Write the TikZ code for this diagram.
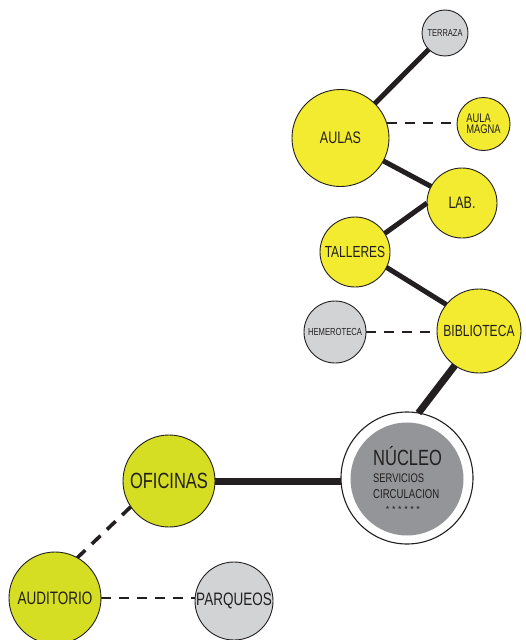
\documentclass[tikz,border=0pt]{standalone}
\usepackage{fontspec}
\setmainfont{Liberation Sans}
\newfontfamily\cond[FakeStretch=0.75]{Liberation Sans}
\definecolor{ylw}{RGB}{242,235,48}
\definecolor{lime}{RGB}{214,222,35}
\definecolor{lgray}{RGB}{209,211,212}
\definecolor{dgray}{RGB}{147,149,152}
\definecolor{ink}{RGB}{35,31,32}
\tikzset{
  room/.style={circle,draw=ink,line width=0.9pt,inner sep=0pt,outer sep=0pt,text=ink},
  yroom/.style={room,fill=ylw},
  lroom/.style={room,fill=lime},
  groom/.style={room,fill=lgray},
  link/.style={draw=ink,line width=5pt},
  biglink/.style={draw=ink,line width=7pt},
  dlink/.style={draw=ink,line width=2.6pt,dash pattern=on 10pt off 8pt},
  fs/.style={font=\cond\fontsize{#1}{#1}\selectfont}
}
\begin{document}
\begin{tikzpicture}[x=1pt,y=-1pt]
\useasboundingbox (0,0) rectangle (525,640);
\clip (0,0) rectangle (525,640);
% nodes
\node[groom,minimum size=46pt,fs=10] (ter) at (445,33) {TERRAZA};
\node[yroom,minimum size=97pt,fs=16.7] (aul) at (340.5,138) {AULAS};
\node[yroom,minimum size=53pt,fs=12.5,align=left] (am) at (483.5,124) {AULA\\[-1pt]MAGNA};
\node[yroom,minimum size=70pt,fs=16.6] (lab) at (462,203) {LAB.};
\node[yroom,minimum size=70pt,fs=16] (tal) at (355,252) {TALLERES};
\node[groom,minimum size=62pt,fs=10.2] (hem) at (335,332) {HEMEROTECA};
\node[yroom,minimum size=84pt,fs=16.1] (bib) at (479,331) {BIBLIOTECA};
\node[circle,draw=ink,line width=1.1pt,fill=white,minimum size=132pt,inner sep=0pt,outer sep=0pt] (nuc) at (407,478) {};
\node[circle,fill=dgray,minimum size=113pt,inner sep=0pt] (nucin) at (407,479) {};
\node[lroom,minimum size=92pt,fs=22] (ofi) at (169,481) {OFICINAS};
\node[lroom,minimum size=92pt,fs=18] (aud) at (55,598) {AUDITORIO};
\node[groom,minimum size=78pt,fs=18] (par) at (234,601) {PARQUEOS};
% nucleo texts
\node[anchor=base west,inner sep=0pt,text=ink,fs=22] (t1) at (373,465) {NÚCLEO};
\node[anchor=base west,inner sep=0pt,text=ink,fs=12.5] (t2) at (373,482) {SERVICIOS};
\node[anchor=base west,inner sep=0pt,text=ink,fs=12.8] (t3) at (373,498) {CIRCULACION};
\node[anchor=base,inner sep=0pt,text=ink,font=\fontsize{9}{9}\selectfont] (t4) at (403,512) {*\hspace{2.6pt}*\hspace{2.6pt}*\hspace{2.6pt}*\hspace{2.6pt}*\hspace{2.6pt}*};
% connectors
\draw[link] (ter) -- (aul);
\draw[dlink] (aul.18) -- (aul.18 -| am.west);
\draw[link] (aul) -- (lab);
\draw[link] (lab.180) -- (tal.32);
\draw[link] (tal.-26) -- (bib.141);
\draw[dlink] (hem.east) -- (hem.east -| bib.west);
\draw[biglink] (bib.235) -- (nuc.80);
\draw[biglink] (ofi.east) -- (ofi.east -| nuc.west);
\draw[dlink,line width=3.6pt,dash pattern=on 12pt off 9pt] (ofi.214) -- (aud.61);
\draw[dlink] (aud.east) -- (aud.east -| par.west);
\end{tikzpicture}
\end{document}
